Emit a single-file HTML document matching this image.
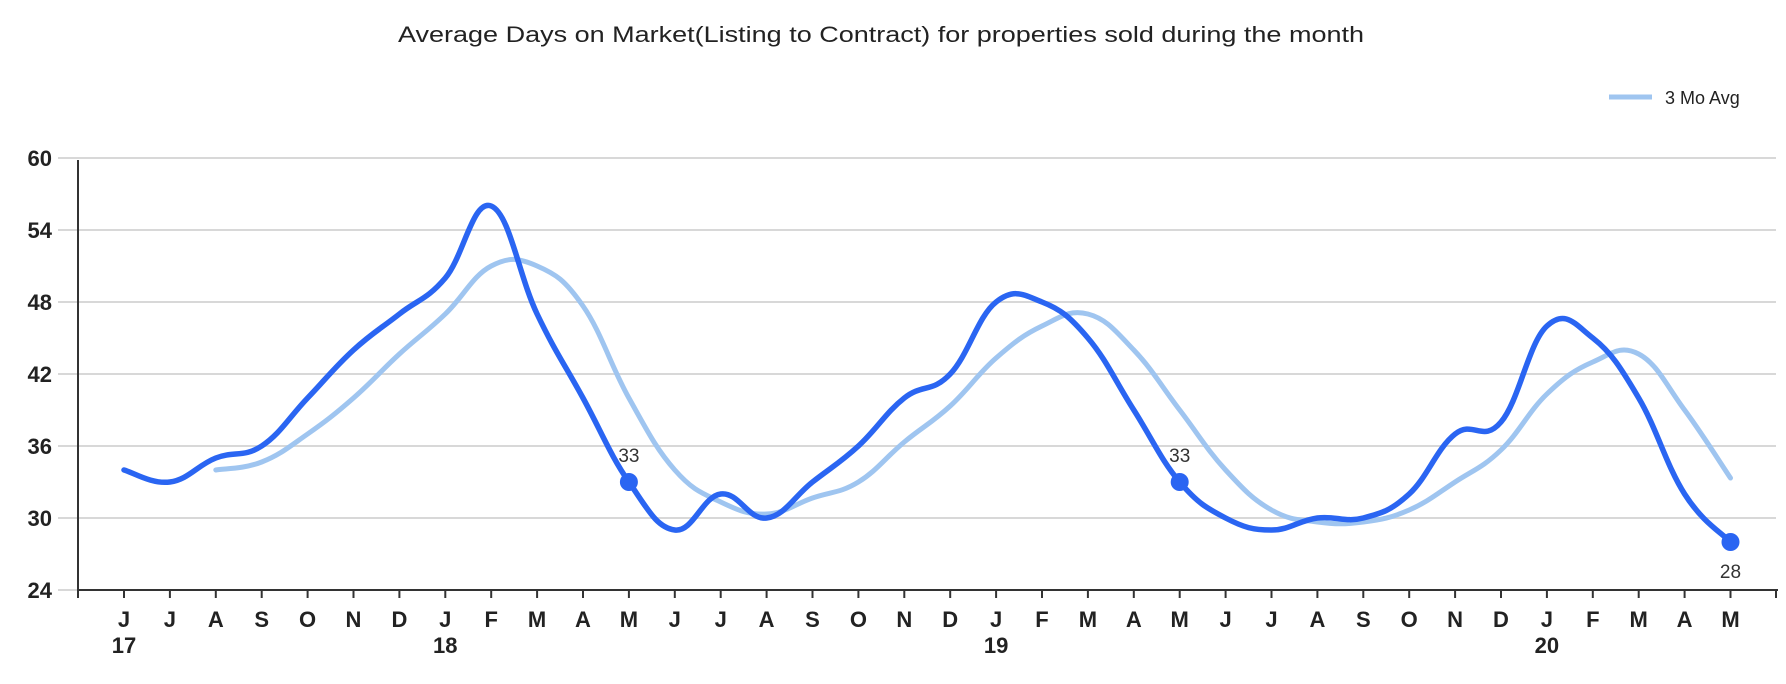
<!DOCTYPE html>
<html><head><meta charset="utf-8"><style>
html,body{margin:0;padding:0;background:#fff;}
svg{display:block;font-family:"Liberation Sans",Arial,sans-serif;}
</style></head><body>
<svg id="s" width="1786" height="684" viewBox="0 0 1786 684" xmlns="http://www.w3.org/2000/svg">
<text x="881" y="42" text-anchor="middle" font-size="22" fill="#222" textLength="966" lengthAdjust="spacingAndGlyphs">Average Days on Market(Listing to Contract) for properties sold during the month</text>
<line x1="1609" y1="97" x2="1652" y2="97" stroke="#9fc5f0" stroke-width="5"/>
<text x="1665" y="104" font-size="18" fill="#222">3 Mo Avg</text>
<g id="g"></g>
</svg>
<script>
var g=document.getElementById('g');
var main=[34,33,35,36,40,44,47,50,56,47,40,33,29,32,30,33,36,40,42,48,48,45,39,33,30,29,30,30,32,37,38,46,45,40,32,28];
var months="JJASONDJFMAMJJASONDJFMAMJJASONDJFMAM";
function X(i){return 124+i*45.9;}
function Y(v){return 590-(v-24)*12;}
var h='';
[24,30,36,42,48,54,60].forEach(function(v){
 h+='<line x1="58" x2="1776" y1="'+Y(v)+'" y2="'+Y(v)+'" stroke="#d8d8d8" stroke-width="2"/>';
 h+='<text x="52" y="'+(Y(v)+8)+'" text-anchor="end" font-size="22" font-weight="bold" fill="#222">'+v+'</text>';
});
h+='<line x1="78" y1="160" x2="78" y2="598" stroke="#333" stroke-width="2"/>';
h+='<line x1="78" y1="590" x2="1778" y2="590" stroke="#333" stroke-width="2"/>';
h+='<line x1="1776" y1="590" x2="1776" y2="598" stroke="#333" stroke-width="2"/>';
for(var i=0;i<36;i++){
 h+='<line x1="'+X(i)+'" y1="590" x2="'+X(i)+'" y2="598" stroke="#333" stroke-width="2"/>';
 h+='<text x="'+X(i)+'" y="627" text-anchor="middle" font-size="22" font-weight="bold" fill="#222">'+months[i]+'</text>';
}
[[0,'17'],[7,'18'],[19,'19'],[31,'20']].forEach(function(p){
 h+='<text x="'+X(p[0])+'" y="653" text-anchor="middle" font-size="22" font-weight="bold" fill="#222">'+p[1]+'</text>';
});
function path(pts){
 var d='M'+pts[0][0]+','+pts[0][1];
 for(var i=0;i<pts.length-1;i++){
  var p0=pts[i-1]||pts[i],p1=pts[i],p2=pts[i+1],p3=pts[i+2]||p2;
  var t=0.2;
  var c1=[p1[0]+(p2[0]-p0[0])*t,p1[1]+(p2[1]-p0[1])*t];
  var c2=[p2[0]-(p3[0]-p1[0])*t,p2[1]-(p3[1]-p1[1])*t];
  d+=' C'+c1[0]+','+c1[1]+' '+c2[0]+','+c2[1]+' '+p2[0]+','+p2[1];
 }
 return d;
}
var avg=[];
for(var i=2;i<36;i++)avg.push([X(i),Y((main[i]+main[i-1]+main[i-2])/3)]);
h+='<path d="'+path(avg)+'" fill="none" stroke="#9fc5f0" stroke-width="5" stroke-linecap="round"/>';
var mp=main.map(function(v,i){return [X(i),Y(v)];});
h+='<path d="'+path(mp)+'" fill="none" stroke="#2a65f2" stroke-width="5.5" stroke-linecap="round"/>';
[[11,-1],[23,-1],[35,1]].forEach(function(p){
 var i=p[0];
 h+='<circle cx="'+X(i)+'" cy="'+Y(main[i])+'" r="9" fill="#2a65f2"/>';
 h+='<text x="'+X(i)+'" y="'+(p[1]<0?Y(main[i])-20:Y(main[i])+36)+'" text-anchor="middle" font-size="19" fill="#333">'+main[i]+'</text>';
});
g.innerHTML=h;
</script>
</body></html>
